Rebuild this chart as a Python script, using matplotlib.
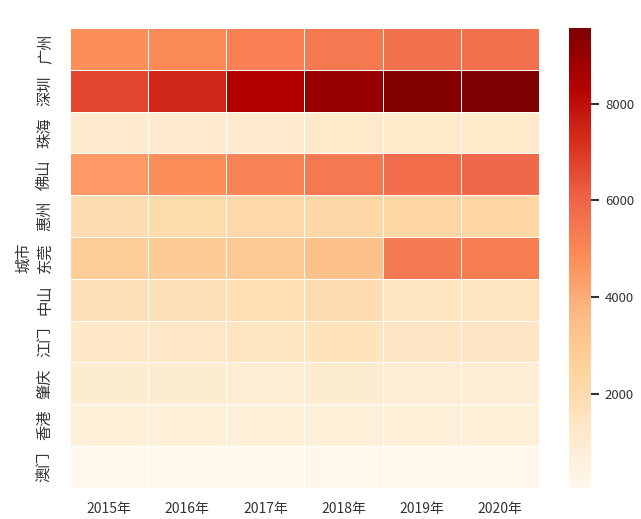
import matplotlib
matplotlib.use("Agg")
import matplotlib.pyplot as plt
import seaborn as sns
import numpy as np
import pandas as pd

years = ["2015年", "2016年", "2017年", "2018年", "2019年", "2020年"]
cities = ["广州", "深圳", "珠海", "佛山", "惠州", "东莞", "中山", "江门", "肇庆", "香港", "澳门"]

guangzhou = [4800, 4900, 5200, 5400, 5600, 5700]
shenzhen = [6700, 7400, 8400, 9000, 9450, 9570]
zhuhai = [1000, 1050, 1100, 1150, 1150, 1200]
foshan = [4500, 4800, 5100, 5400, 5800, 5900]
huizhou = [1900, 2000, 2100, 2200, 2300, 2300]
dongguan = [2700, 2800, 3000, 3300, 5400, 5300]
zhongshan = [1700, 1700, 1800, 1900, 1500, 1500]
jiangmen = [1250, 1300, 1500, 1550, 1350, 1350]
zhaoqing = [950, 950, 900, 950, 850, 850]
hongkong = [750, 750, 700, 750, 700, 700]
macau = [60, 70, 80, 90, 100, 47]

values = np.array([guangzhou, shenzhen, zhuhai, foshan, huizhou, dongguan,
                   zhongshan, jiangmen, zhaoqing, hongkong, macau])
df = pd.DataFrame(values, index=cities, columns=years)

sns.set_theme(style="white")
plt.rcParams['font.family'] = ['Noto Sans CJK SC', 'DejaVu Sans']
plt.rcParams['axes.unicode_minus'] = False

fig = plt.figure(figsize=(6.41, 5.19), dpi=100)
ax = fig.add_axes([0.109, 0.060, 0.732, 0.886])
cax = fig.add_axes([0.888, 0.060, 0.034, 0.886])

sns.heatmap(df, ax=ax, cbar_ax=cax, cmap="OrRd", linewidths=0.6, linecolor="white")

ax.set_ylabel("城市", fontsize=11, color="#333333", labelpad=3)
ax.set_xlabel("")
ax.tick_params(axis="x", length=0, labelsize=10, colors="#333333", pad=10)
ax.tick_params(axis="y", length=0, labelsize=11, colors="#333333", pad=12)
ax.set_yticklabels(cities, rotation=90, va="center", fontsize=11)
ax.set_xticklabels(years, rotation=0)

cax.yaxis.set_ticks([2000, 4000, 6000, 8000])
cax.yaxis.set_ticks_position("right")
cax.tick_params(axis="y", right=True, labelsize=9.5, colors="#333333",
                length=6, width=1.5, pad=4)
for s in cax.spines.values():
    s.set_visible(False)

plt.savefig("out.png", dpi=100)
